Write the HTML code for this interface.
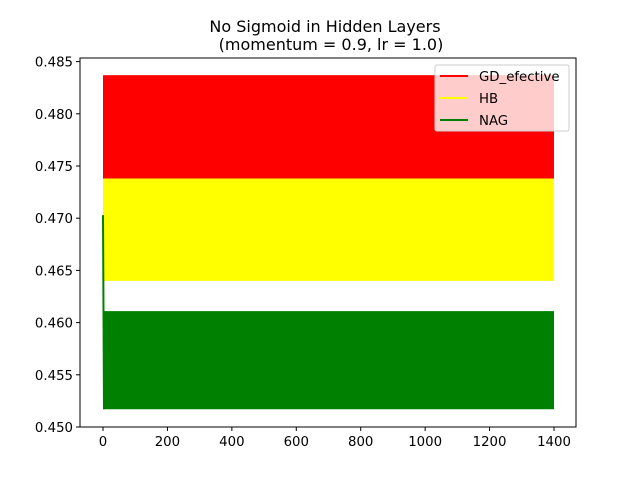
<!DOCTYPE html>
<html><head><meta charset="utf-8"><style>
body{margin:0;background:#fff;font-family:"Liberation Sans","DejaVu Sans",sans-serif;}
svg text{font-family:"DejaVu Sans","Liberation Sans",sans-serif;}
</style></head><body>
<svg id="chart" width="640" height="480">
<rect width="640" height="480" fill="#fff"/>
<text x="325" y="32" font-size="16" text-anchor="middle">No Sigmoid in Hidden Layers</text>
<text x="331" y="50" font-size="16" text-anchor="middle">(momentum = 0.9, lr = 1.0)</text>
<g id="plot"></g>
<rect x="80" y="58" width="496" height="369" fill="none" stroke="#000" stroke-width="1"/>
<g id="legend">
<rect x="435" y="65" width="134" height="66" rx="2" fill="#fff" fill-opacity="0.8" stroke="#ccc"/>
</g>
</svg>
<script>
const seriesNames=["GD_efective","HB","NAG"];
const seriesColors=["red","yellow","green"];
const seriesLow=[0.4738,0.4640,0.4517];
const seriesHigh=[0.4837,0.4738,0.4611];
const seriesStart=[0.4738,0.4703,0.4703];
const xStart=[0,0,0];
const xEnd=[1400,1400,1400];
const xTicks=[0,200,400,600,800,1000,1200,1400];
const yTicks=[0.450,0.455,0.460,0.465,0.470,0.475,0.480,0.485];
const x=v=>103+(v/1400)*451;
const y=v=>427-(v-0.450)/0.005*52.2;
const NS="http://www.w3.org/2000/svg";
const svg=document.getElementById('chart');
const plot=document.getElementById('plot');
function mk(t,a,p){const e=document.createElementNS(NS,t);for(const k in a)e.setAttribute(k,a[k]);(p||svg).appendChild(e);return e;}
for(let i=0;i<seriesNames.length;i++){
  const r=mk('rect',{x:x(xStart[i]),y:y(seriesHigh[i]),width:x(xEnd[i])-x(xStart[i]),height:y(seriesLow[i])-y(seriesHigh[i]),fill:seriesColors[i]},plot);
  
  
  const l=mk('line',{x1:x(xStart[i]),x2:x(xStart[i])+1,y1:y(seriesStart[i]),y2:y(seriesLow[i]),stroke:seriesColors[i],'stroke-width':2},plot);
  
  
}
xTicks.forEach(t=>{
  mk('line',{x1:x(t),x2:x(t),y1:427,y2:431,stroke:'#000'});
  const tx=mk('text',{x:x(t),y:446,'font-size':13.3,'text-anchor':'middle'});tx.textContent=t;
  
  
});
yTicks.forEach(t=>{
  mk('line',{x1:76,x2:80,y1:y(t),y2:y(t),stroke:'#000'});
  const tx=mk('text',{x:73,y:y(t)+5,'font-size':13.3,'text-anchor':'end'});tx.textContent=t.toFixed(3);
  
  
});
const lg=document.getElementById('legend');
seriesNames.forEach((n,i)=>{
  const yy=76+i*22;
  mk('line',{x1:440,x2:468,y1:yy,y2:yy,stroke:seriesColors[i],'stroke-width':2},lg);
  const tx=mk('text',{x:479,y:yy+5,'font-size':13.3},lg);tx.textContent=n;
  
  
});
</script>
</body></html>
